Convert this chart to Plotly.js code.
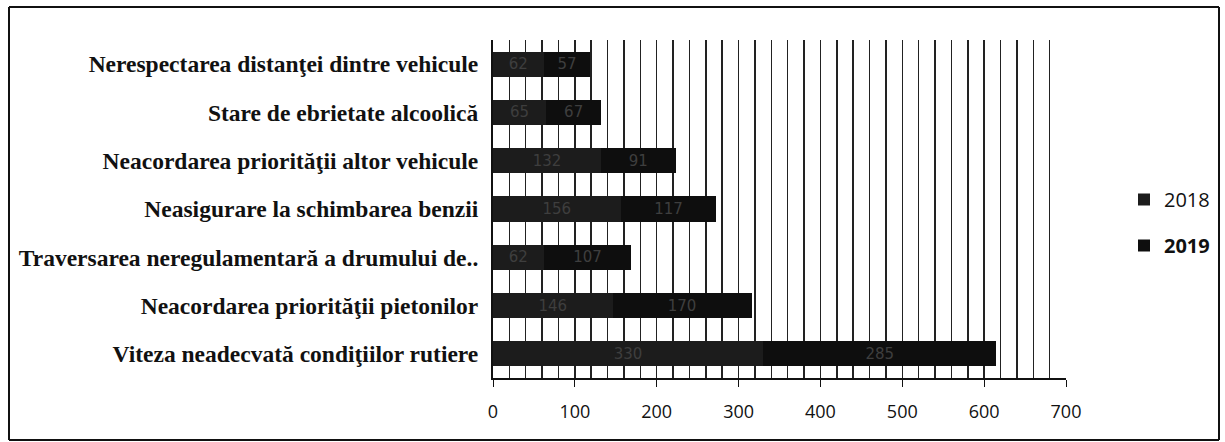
<!DOCTYPE html>
<html>
<head>
<meta charset="utf-8">
<script src="https://cdn.plot.ly/plotly-3.0.1.min.js"></script>
<style>html,body{margin:0;padding:0;background:#fff;}#chart{width:1225px;height:442px;}</style>
</head>
<body>
<div id="chart"></div>
<script>
const categories = [
  "Nerespectarea distanţei dintre vehicule",
  "Stare de ebrietate alcoolică",
  "Neacordarea priorităţii altor vehicule",
  "Neasigurare la schimbarea benzii",
  "Traversarea neregulamentară a drumului de..",
  "Neacordarea priorităţii pietonilor",
  "Viteza neadecvată condiţiilor rutiere"
];
const values2018 = [62, 65, 132, 156, 62, 146, 330];
const values2019 = [57, 67, 91, 117, 107, 170, 285];
const seriesNames = ["2018", "<b>2019</b>"];

const common = {
  type: 'bar', orientation: 'h', y: categories,
  textposition: 'inside', insidetextanchor: 'middle',
  textfont: {family: 'DejaVu Sans, sans-serif', size: 15, color: '#3e3e3e'}
};
const data = [
  Object.assign({}, common, {name: seriesNames[0], legendgroup: 'a', x: values2018, text: values2018.map(String), marker: {color: '#1c1c1c', line: {width: 0}}}),
  Object.assign({}, common, {name: seriesNames[1], legendgroup: 'b', x: values2019, text: values2019.map(String), marker: {color: '#0e0e0e', line: {width: 0}}})
];
// paper area: x 493..1225, y 40..378 ; axis 0..700 spans x 493..1066
const L = 493, PR = 1225, AX = 1066, T = 40, B = 378;
const px = v => (v - L) / (PR - L);
const py = v => (B - v) / (B - T);
const layout = {
  width: 1225, height: 442,
  margin: {l: L, r: 0, t: T, b: 442 - B, autoexpand: false},
  barmode: 'stack', bargap: 0.48,
  paper_bgcolor: '#ffffff', plot_bgcolor: '#ffffff',
  showlegend: true,
  legend: {x: px(1124), y: py(180), xanchor: 'left', yanchor: 'top',
    traceorder: 'grouped', tracegroupgap: 17, itemwidth: 30,
    font: {family: 'Open Sans, sans-serif', size: 20, color: '#111'}},
  xaxis: {domain: [0, px(AX)], range: [0, 700], dtick: 100, tick0: 0, showgrid: true, gridcolor: '#222', gridwidth: 1.5,
    minor: {dtick: 20, showgrid: true, gridcolor: '#222', gridwidth: 1.5},
    showline: true, linecolor: '#111', linewidth: 1.5, ticks: 'outside', ticklen: 7, tickcolor: '#111',
    ticklabelstandoff: 10, automargin: false,
    tickfont: {family: 'Open Sans, sans-serif', size: 18, color: '#111'}, zeroline: false, fixedrange: true},
  yaxis: {autorange: 'reversed', showline: true, linecolor: '#111', linewidth: 2, ticks: '', showgrid: false,
    ticklabelstandoff: 8, automargin: false,
    tickfont: {family: 'Liberation Serif, Times New Roman, serif', size: 23.5, color: '#111', weight: 'bold'}},
  shapes: [
    {type: 'line', xref: 'paper', yref: 'paper', x0: px(9), x1: px(9), y0: py(7), y1: py(440), line: {color: '#111', width: 2}},
    {type: 'line', xref: 'paper', yref: 'paper', x0: px(9), x1: px(1219), y0: py(7), y1: py(7), line: {color: '#111', width: 2}},
    {type: 'line', xref: 'paper', yref: 'paper', x0: px(1219), x1: px(1219), y0: py(7), y1: py(440), line: {color: '#111', width: 2}},
    {type: 'line', xref: 'paper', yref: 'paper', x0: px(9), x1: px(1219), y0: py(440), y1: py(440), line: {color: '#111', width: 2}}
  ]
};
Plotly.newPlot('chart', data, layout, {displayModeBar: false, staticPlot: true});
</script>
</body>
</html>
